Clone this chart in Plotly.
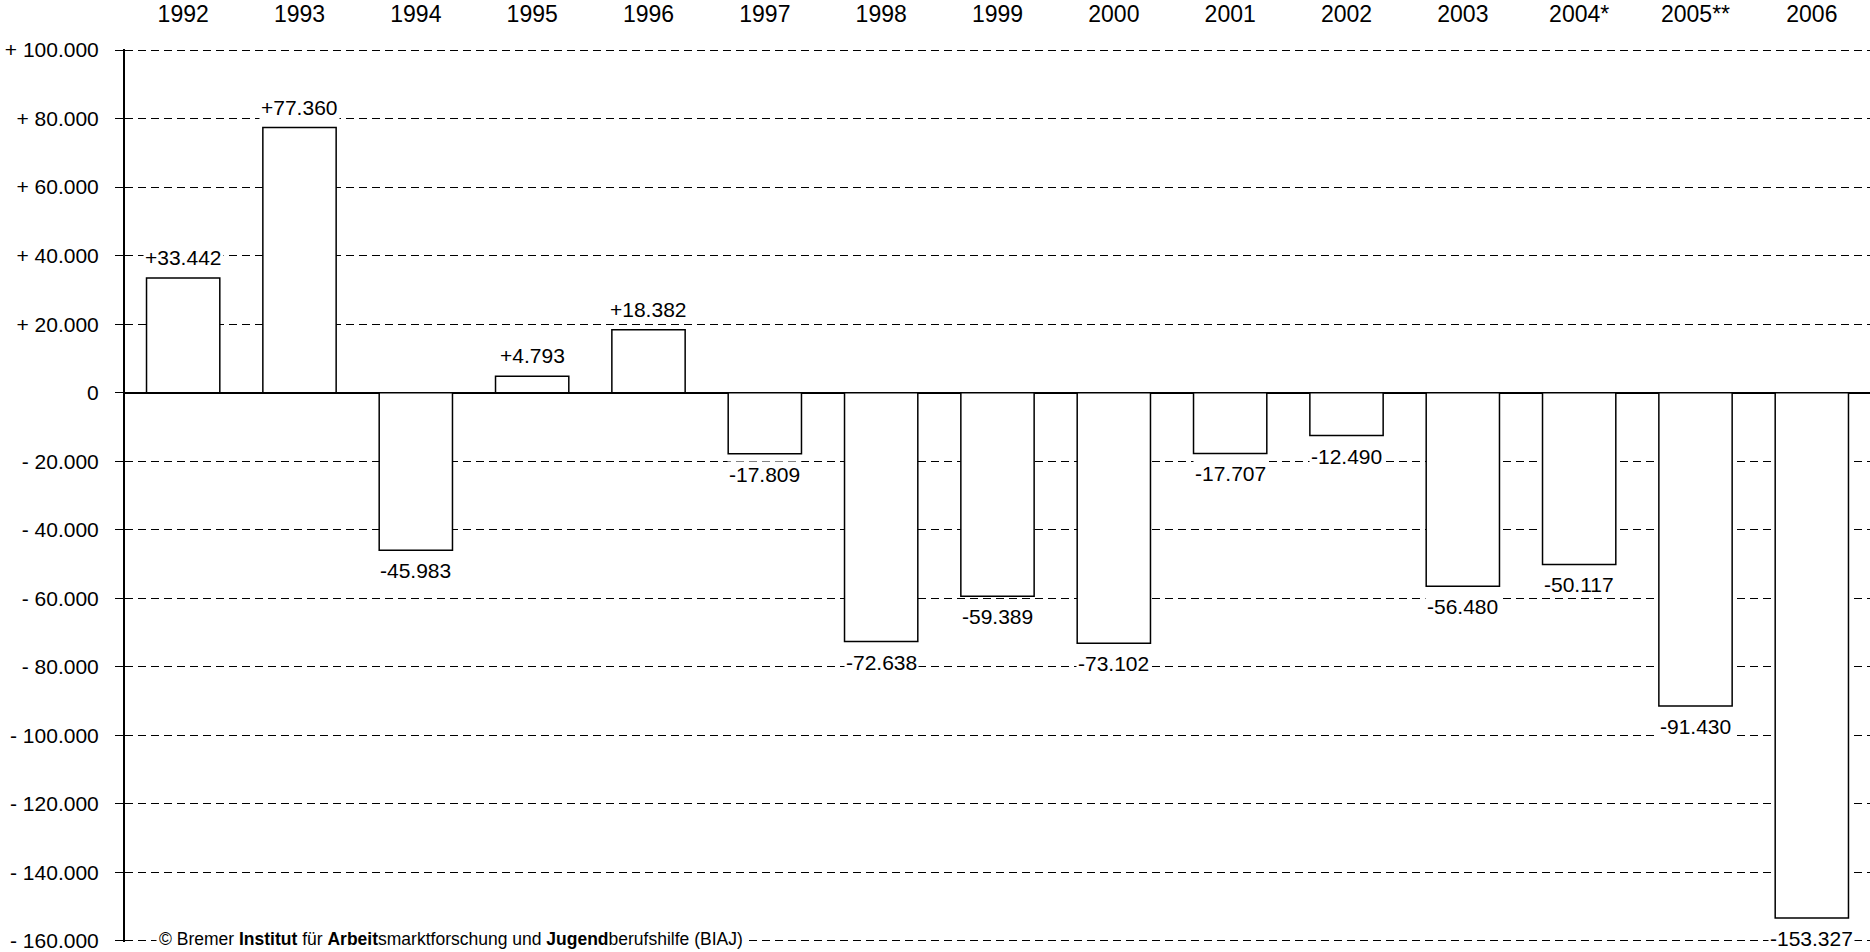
import plotly.graph_objects as go

years = ["1992", "1993", "1994", "1995", "1996", "1997", "1998", "1999",
         "2000", "2001", "2002", "2003", "2004*", "2005**", "2006"]
values = [33442, 77360, -45983, 4793, 18382, -17809, -72638, -59389,
          -73102, -17707, -12490, -56480, -50117, -91430, -153327]
tick_vals = [100000, 80000, 60000, 40000, 20000, 0, -20000, -40000, -60000,
             -80000, -100000, -120000, -140000, -160000]
tick_text = ["+ 100.000", "+ 80.000", "+ 60.000", "+ 40.000", "+ 20.000", "0",
             "- 20.000", "- 40.000", "- 60.000", "- 80.000", "- 100.000",
             "- 120.000", "- 140.000", "- 160.000"]
copyright_text = ("© Bremer <b>Institut</b> für <b>Arbeit</b>smarktforschung und "
                  "<b>Jugend</b>berufshilfe (BIAJ)")

FONT = "Liberation Sans, Arial, sans-serif"


def fmt(v):
    s = f"{abs(v):,}".replace(",", ".")
    return ("+" if v > 0 else "-") + s


fig = go.Figure()
fig.add_trace(go.Bar(
    x=years, y=values,
    marker=dict(color="white", line=dict(color="black", width=1.5)),
    hoverinfo="skip",
))

annotations = []
for i, v in enumerate(values):
    annotations.append(dict(
        x=i, y=v, xref="x", yref="y", text=fmt(v), showarrow=False,
        yanchor="bottom" if v > 0 else "top",
        yshift=7 if v > 0 else -7,
        bgcolor="white", borderpad=1,
        font=dict(family=FONT, size=21, color="black"),
    ))
annotations.append(dict(
    x=0.018, y=-160000, xref="paper", yref="y", text=copyright_text,
    showarrow=False, xanchor="left", yanchor="middle", yshift=2,
    bgcolor="white", borderpad=2,
    font=dict(family=FONT, size=17.5, color="black"),
))

fig.update_layout(
    width=1870, height=952,
    margin=dict(l=125, r=0, t=49, b=8),
    paper_bgcolor="white", plot_bgcolor="white",
    showlegend=False,
    bargap=0.37,
    font=dict(family=FONT, size=21, color="black"),
    annotations=annotations,
    xaxis=dict(
        type="category", categoryorder="array", categoryarray=years,
        range=[-0.5, len(years) - 0.5],
        side="top", showgrid=False, showline=False,
        ticks="", zeroline=False, ticklabelstandoff=21,
        tickfont=dict(family=FONT, size=23, color="black"),
    ),
    yaxis=dict(
        range=[-160300, 100300], tickvals=tick_vals, ticktext=tick_text,
        showgrid=True, gridcolor="black", gridwidth=1, griddash="8px,5px",
        zeroline=True, zerolinecolor="black", zerolinewidth=2,
        showline=True, linecolor="black", linewidth=2,
        ticks="outside", ticklen=8, tickcolor="black", tickwidth=1,
        ticklabelstandoff=12, ticklabeloverflow="allow",
        tickfont=dict(family=FONT, size=21, color="black"),
    ),
)

fig.write_html("out.html", config={"displayModeBar": False},
               post_script="document.body.style.margin='0';")
